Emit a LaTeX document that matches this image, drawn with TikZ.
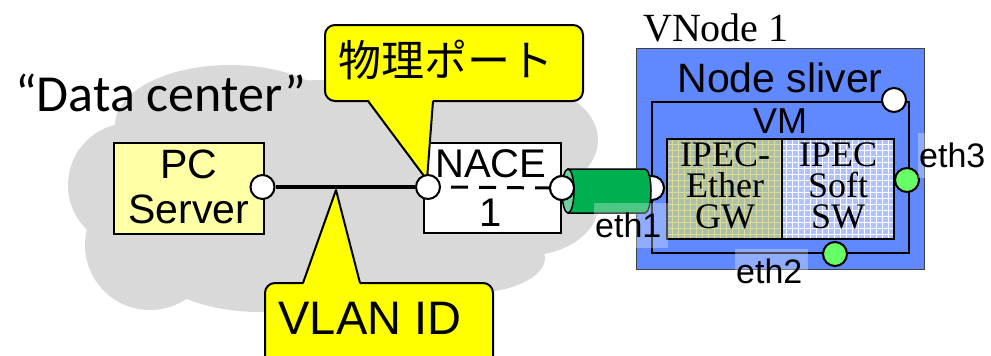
\documentclass[tikz,border=0pt]{standalone}
\usepackage{fontspec}
\newfontfamily\arial{Liberation Sans}
\newfontfamily\tnr{Liberation Serif}
\newfontfamily\calib{Carlito}
\newfontfamily\cjk{Noto Sans CJK JP}
\definecolor{cloudgray}{HTML}{D9D9D9}
\definecolor{pcyellow}{HTML}{FFFFA6}
\definecolor{callyellow}{HTML}{FFFF00}
\definecolor{vblue}{HTML}{6189FF}
\definecolor{gwfill}{HTML}{A9BFB6}
\definecolor{gwgrid}{HTML}{DCDC8C}
\definecolor{swfill}{HTML}{AFC2FF}
\definecolor{cylgreen}{HTML}{00B050}
\definecolor{cylend}{HTML}{70D0A0}
\definecolor{portgreen}{HTML}{66FF66}
\begin{document}
\begin{tikzpicture}[x=1pt,y=-1pt,
  port/.style={circle,draw,line width=2pt,minimum size=24pt,inner sep=0pt,fill=white},
  gport/.style={port,fill=portgreen},
  boxnode/.style={draw,line width=1.5pt,inner sep=0pt},
  txt/.style={anchor=base,inner sep=0pt},
  arialtxt/.style={txt,font=\arial\fontsize{#1}{#1}\selectfont},
  tnrtxt/.style={txt,font=\tnr\fontsize{#1}{#1}\selectfont},
  ipectxt/.style={inner sep=0pt,align=center,font=\tnr\fontsize{36}{31}\selectfont},
  callout/.style={fill=callyellow,draw,line width=2pt,rounded corners=10pt},
  patch/.style={fill=white,opacity=0.3}]
\useasboundingbox (0,0) rectangle (991,356);
\clip (0,0) rectangle (991,356);
% cloud
\begin{scope}[fill=cloudgray]
\fill (330,190) ellipse [x radius=250pt, y radius=110pt];
\fill (130,185) circle [radius=62pt];
\fill (150,245) circle [radius=65pt];
\fill (260,260) ellipse [x radius=110pt, y radius=52pt];
\fill (230,125) ellipse [x radius=115pt, y radius=60pt];
\fill (400,112) ellipse [x radius=90pt, y radius=50pt];
\fill (520,140) ellipse [x radius=78pt, y radius=55pt];
\fill (530,200) ellipse [x radius=70pt, y radius=55pt];
\fill (470,258) ellipse [x radius=75pt, y radius=35pt];
\end{scope}
\node[anchor=base west,inner sep=0pt,font=\calib\fontsize{52}{52}\selectfont] (dc) at (15,111) {“Data center”};
% PC server
\node[boxnode,fill=pcyellow,minimum width=150pt,minimum height=91pt] (pc) at (189,188.5) {};
\node[arialtxt=41] (pct1) at (189,178) {PC};
\node[arialtxt=41] (pct2) at (189,223) {Server};
% NACE
\node[boxnode,fill=white,minimum width=137pt,minimum height=90pt] (nace) at (492.5,188) {};
\node[arialtxt=40] (nacet1) at (491,177) {NACE};
\node[arialtxt=40] (nacet2) at (491,226) {1};
% callouts
\filldraw[callout] (325,25) rectangle (583,101);
\fill[callyellow] (368,99) -- (433,99) -- (427,180) -- cycle;
\draw[line width=2pt,line join=round] (368,101) -- (427,180) -- (433,101);
\node[font=\cjk\fontsize{43}{43}\selectfont,inner sep=0pt] (butsuri) at (446,60) {物理ポート};
\filldraw[callout] (265,283) rectangle (493,380);
\fill[callyellow] (303,285) -- (360,285) -- (336,190) -- cycle;
\draw[line width=2pt,line join=round] (303,283) -- (336,190) -- (360,283);
\node[arialtxt=47] (vlan) at (370,334) {VLAN ID};
% ports and link
\node[port] (pcp) at (262.5,187) {};
\node[port] (nacel) at (428,187) {};
\node[port] (nacer) at (562,188) {};
\draw[line width=3.5pt] (pcp.east) -- (nacel.west);
\draw[line width=3pt,dash pattern=on 17pt off 11pt,dash phase=18pt] (nacel.east) -- (nacer.west);
% VNode
\node[tnrtxt=40,anchor=base west] (vnodet) at (643,41) {VNode 1};
\node[draw=black!75,line width=1pt,fill=vblue,minimum width=288pt,minimum height=221pt,inner sep=0pt] (vnode) at (780,158.5) {};
\node[arialtxt=41] (slivert) at (780,92) {Node sliver};
\node[draw,line width=2.5pt,minimum width=257pt,minimum height=151pt,inner sep=0pt] (sliver) at (780.5,177.5) {};
\node[arialtxt=36] (vmt) at (780,133) {VM};
% IPEC boxes
\fill[gwfill] (667,139) rectangle (782,239);
\draw[gwgrid,line width=0.5pt,step=6pt] (667,139) grid (782,239);
\fill[swfill] (782,139) rectangle (894,239);
\draw[white,line width=0.5pt,step=6pt] (782,139) grid (894,239);
\node[draw,line width=2pt,minimum width=115pt,minimum height=100pt,inner sep=0pt] (gw) at (724.5,189) {};
\node[draw,line width=2pt,minimum width=112pt,minimum height=100pt,inner sep=0pt] (sw) at (838,189) {};
\node[ipectxt] (gwt) at (725,186) {IPEC-\\Ether\\GW};
\node[ipectxt] (swt) at (838,186) {IPEC\\Soft\\SW};
% VM ports
\node[port] (eth1p) at (652,188) {};
\node[port] (sliverp) at (894,100) {};
\node[gport] (eth3p) at (907,180) {};
\node[gport] (eth2p) at (835,254) {};
% cylinder
\filldraw[fill=cylgreen,line width=1.5pt] (568,169) -- (645,169) arc[start angle=90,end angle=-90,x radius=6pt,y radius=22pt] -- (568,213) -- cycle;
\filldraw[fill=cylend,line width=1.5pt] (568,191) ellipse [x radius=6pt, y radius=22pt];
\node[port] (nacer2) at (562,188) {};
% eth labels
\fill[patch] (594,203) rectangle (668,248);
\fill[patch] (735,249) rectangle (808,284);
\fill[patch] (918,133) rectangle (940,178);
\node[arialtxt=34,anchor=base west] (eth1) at (595,237) {eth1};
\node[arialtxt=34,anchor=base west] (eth2) at (736,283) {eth2};
\node[arialtxt=34,anchor=base west] (eth3) at (919,167) {eth3};
\end{tikzpicture}
\end{document}
